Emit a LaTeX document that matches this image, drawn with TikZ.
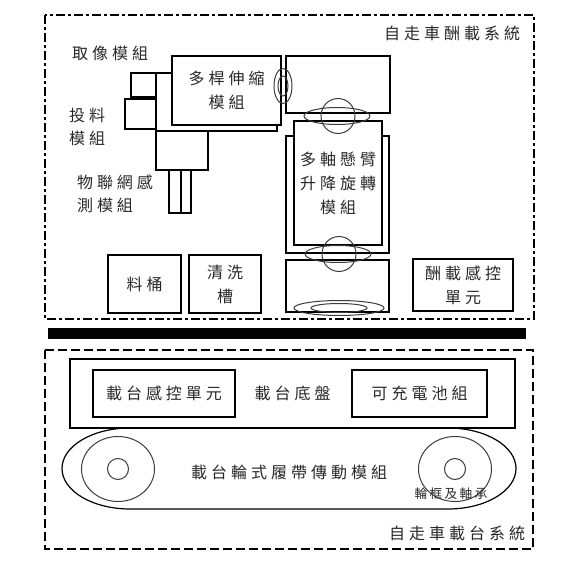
\documentclass[tikz,border=0pt]{standalone}
\usepackage{fontspec}
\usepackage{xcolor}
\usepackage{tikz}
\usetikzlibrary{shapes.geometric, positioning}
\newfontfamily\cjkwide[LetterSpace=25]{Noto Sans CJK TC}
\newfontfamily\cjksmall[LetterSpace=18]{Noto Sans CJK TC}
\definecolor{mytext}{RGB}{40,40,40}
\definecolor{mythin}{RGB}{60,60,60}
\tikzset{
  partbox/.style={rectangle, draw=black, fill=white, line width=2pt, inner sep=0pt, align=center, text=mytext, font=\fontsize{16}{24}\cjkwide},
  label/.style={inner sep=0pt, align=center, text=mytext, font=\fontsize{16}{23}\cjkwide},
  smalllabel/.style={inner sep=0pt, text=mytext, font=\fontsize{12.7}{14}\cjksmall},
  oval/.style={ellipse, draw=mythin, line width=1pt, inner sep=0pt},
  hub/.style={circle, draw=mythin, line width=1pt, inner sep=0pt},
  frame/.style={draw=black, line width=1.6pt}
}
\begin{document}
\begin{tikzpicture}[x=1pt,y=-1pt]
  \useasboundingbox (0,0) rectangle (571,567);

  % payload frame
  \draw[frame, dash pattern=on 9pt off 3pt on 3pt off 3pt] (45,15) rectangle (534,319);
  \node[label] (paytitle) at (452,33) {自走車酬載系統};

  % arm and its parts
  \node[partbox, minimum width=121pt, minimum height=58pt] (armback) at (216.5,102) {};
  \node[partbox, minimum width=25pt, minimum height=24pt] (cambox) at (143.5,85) {};
  \node[partbox, minimum width=31pt, minimum height=30pt] (feedbox) at (140.5,114) {};
  \node[partbox, minimum width=52pt, minimum height=39pt] (iotbase) at (182,150.5) {};
  \node[partbox, minimum width=12pt, minimum height=43pt] (iotleft) at (175,191.5) {};
  \node[partbox, minimum width=10pt, minimum height=43pt] (iotright) at (186,191.5) {};
  \node[partbox, minimum width=109pt, minimum height=69pt] (armbox) at (226.5,90.5) {多桿伸縮\\模組};
  \node[label] (camlabel) at (110,53) {取像模組};
  \node[label] (feedlabel) at (87,126.5) {投料\\模組};
  \node[label, align=left] (iotlabel) at (115,193.5) {物聯網感\\測模組};

  % lift column
  \node[partbox, minimum width=104pt, minimum height=57pt] (topbox) at (338,84.5) {};
  \node[partbox, minimum width=103pt, minimum height=117pt] (liftback) at (337.5,194.5) {};
  \node[partbox, minimum width=88pt, minimum height=124pt] (liftbox) at (338,183) {多軸懸臂\\升降旋轉\\模組};
  \node[partbox, minimum width=103pt, minimum height=52pt] (basebox) at (337.5,286) {};
  \node[oval, minimum width=18pt, minimum height=35pt] (jointouter) at (283,86) {};
  \node[oval, minimum width=10pt, minimum height=20pt] (jointinner) at (283,86) {};
  \node[oval, minimum width=34pt, minimum height=35pt] (uppercirc) at (338,116) {};
  \node[oval, minimum width=66pt, minimum height=17pt] (upperoval) at (337,116) {};
  \node[oval, minimum width=34pt, minimum height=35pt] (lowercirc) at (339,254) {};
  \node[oval, minimum width=66pt, minimum height=17pt] (loweroval) at (338,254) {};
  \node[oval, minimum width=90pt, minimum height=15pt] (plateouter) at (339,308) {};
  \node[oval, minimum width=56pt, minimum height=9pt] (plateinner) at (339,308) {};

  % bottom row
  \node[partbox, minimum width=73pt, minimum height=58pt] (bucket) at (144.5,284) {料桶};
  \node[partbox, minimum width=72pt, minimum height=58pt] (washer) at (225,284) {清洗\\槽};
  \node[partbox, minimum width=100pt, minimum height=52pt] (payctrl) at (463,285) {酬載感控\\單元};

  % divider
  \node[fill=black, minimum width=478pt, minimum height=11pt, inner sep=0pt] (divider) at (287,333.5) {};

  % carrier frame
  \draw[frame, dash pattern=on 9pt off 4pt] (45,350) rectangle (533,549);
  \node[label] (cartitle) at (457,533) {自走車載台系統};
  \node[partbox, minimum width=445pt, minimum height=69pt] (chassis) at (292.5,393.5) {載台底盤};
  \node[partbox, minimum width=142pt, minimum height=47pt] (carctrl) at (164,393.5) {載台感控單元};
  \node[partbox, minimum width=135pt, minimum height=47pt] (battery) at (419.5,393.5) {可充電池組};

  % track
  \draw[draw=black, line width=1.2pt] (130,428) -- (448,428) arc[start angle=-90, end angle=90, x radius=68, y radius=40.5] -- (130,509) arc[start angle=90, end angle=270, x radius=68, y radius=40.5] -- cycle;
  \node[oval, minimum width=73pt, minimum height=65pt] (leftwheel) at (118,469) {};
  \node[hub, minimum size=21pt] (lefthub) at (118,469) {};
  \node[oval, minimum width=73pt, minimum height=65pt] (rightwheel) at (455,469) {};
  \node[hub, minimum size=21pt] (righthub) at (455,469) {};
  \node[label] (tracklabel) at (289,472) {載台輪式履帶傳動模組};
  \node[smalllabel] (rimlabel) at (451,494) {輪框及軸承};
\end{tikzpicture}
\end{document}
